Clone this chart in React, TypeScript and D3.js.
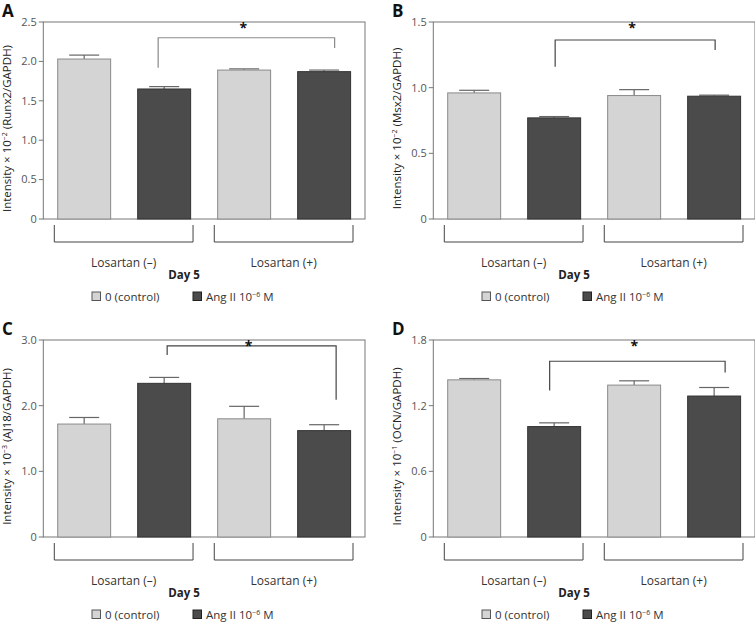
import React from "react";
import * as d3 from "d3";

// ---- data ----
const panelLetters = ["A", "B", "C", "D"];
const geneNames = ["Runx2", "Msx2", "AJ18", "OCN"];
const exponents = ["−2", "−2", "−3", "−1"];
const groupLabels = ["Losartan (–)", "Losartan (+)"];
const seriesLabels = ["0 (control)", "Ang II 10"];
const seriesSup = ["", "−6"];
const xAxisTitle = "Day 5";
const barKeys = ["L-ctrl", "L-ang", "L+ctrl", "L+ang"];

const runx2Values = [2.03, 1.65, 1.89, 1.87];
const runx2Errors = [0.05, 0.03, 0.015, 0.02];
const msx2Values = [0.96, 0.77, 0.94, 0.935];
const msx2Errors = [0.02, 0.01, 0.045, 0.008];
const aj18Values = [1.72, 2.34, 1.8, 1.62];
const aj18Errors = [0.1, 0.09, 0.19, 0.09];
const ocnValues = [1.436, 1.009, 1.388, 1.288];
const ocnErrors = [0.012, 0.034, 0.039, 0.078];

const yMaxes = [2.5, 1.5, 3.0, 1.8];
const yTicks = [
  [0, 0.5, 1.0, 1.5, 2.0, 2.5],
  [0, 0.5, 1.0, 1.5],
  [0, 1.0, 2.0, 3.0],
  [0, 0.6, 1.2, 1.8],
];
// significance bracket: [left leg bottom, top, right leg bottom] in data units
const sigBrackets = [
  [1.92, 2.3, 2.17],
  [1.16, 1.363, 1.287],
  [2.77, 2.91, 2.09],
  [1.339, 1.606, 1.503],
];

const valuesList = [runx2Values, msx2Values, aj18Values, ocnValues];
const errorsList = [runx2Errors, msx2Errors, aj18Errors, ocnErrors];

// ---- styling / layout ----
const W = 755;
const H = 623;
const FONT = "'Open Sans', 'Noto Sans', sans-serif";
const panelOffsets = [
  [0, 0],
  [390, 0],
  [0, 318],
  [390, 318],
];
const plotLeft = 43.3;
const plotRight = 365;
const plotTop = 22;
const plotBottom = 219;
const bracketDx = [
  [-6, 10.5],
  [1, 1],
  [3, 12],
  [-4.5, 11],
];
const bracketColors = ["#8a8a8a", "#444", "#444", "#444"];
const fills = ["#d4d4d4", "#4b4b4b"];
const strokes = ["#8a8a8a", "#333"];

function Panel({ idx }: { idx: number }) {
  const [ox, oy] = panelOffsets[idx];
  const values = valuesList[idx];
  const errors = errorsList[idx];
  const x = d3
    .scaleBand<string>()
    .domain(barKeys)
    .range([plotLeft, plotRight])
    .paddingInner(0.338)
    .paddingOuter(0.18);
  const y = d3.scaleLinear().domain([0, yMaxes[idx]]).range([plotBottom, plotTop]);
  const bw = x.bandwidth();
  const fmt = (v: number) => (v === 0 ? "0" : d3.format(".1f")(v));
  const br = sigBrackets[idx];
  const bl = (x(barKeys[1]) as number) + bw / 2 + bracketDx[idx][0];
  const brr = (x(barKeys[3]) as number) + bw / 2 + bracketDx[idx][1];
  const groups = [0, 1].map((g) => {
    const a = x(barKeys[g * 2]) as number;
    const b = (x(barKeys[g * 2 + 1]) as number) + bw;
    return { x0: a - 3.4, x1: b + 2.4, label: groupLabels[g] };
  });
  const midY = (plotTop + plotBottom) / 2;
  return (
    <g transform={`translate(${ox},${oy})`} fontFamily={FONT}>
      {/* panel letter */}
      <text x={2} y={17} fontSize={17} fontWeight="bold" fill="#111">
        {panelLetters[idx]}
      </text>
      {/* y label */}
      <text
        transform={`translate(11,${midY + 8}) rotate(-90)`}
        textAnchor="middle"
        fontSize={11.5}
        fill="#222"
      >
        <tspan>Intensity × 10</tspan>
        <tspan fontSize={7} dy={-4}>
          {exponents[idx]}
        </tspan>
        <tspan dy={4}>{` (${geneNames[idx]}/GAPDH)`}</tspan>
      </text>
      {/* frame */}
      <rect
        x={plotLeft}
        y={plotTop}
        width={plotRight - plotLeft}
        height={plotBottom - plotTop}
        fill="none"
        stroke="#777"
        strokeWidth={1}
      />
      {/* ticks */}
      {yTicks[idx].map((t) => (
        <g key={t}>
          <line x1={plotLeft - 4.5} x2={plotLeft} y1={y(t)} y2={y(t)} stroke="#777" />
          <text
            x={plotLeft - 6.5}
            y={y(t)}
            dy="0.35em"
            textAnchor="end"
            fontSize={11}
            fill="#555"
          >
            {fmt(t)}
          </text>
        </g>
      ))}
      {/* bars */}
      {barKeys.map((k, i) => {
        const s = i % 2;
        const bx = x(k) as number;
        const top = y(values[i]);
        const cap = y(values[i] + errors[i]);
        const cx = bx + bw / 2;
        return (
          <g key={k}>
            <line x1={cx} x2={cx} y1={top} y2={cap} stroke="#666" strokeWidth={1.2} />
            <line x1={cx - 15} x2={cx + 15} y1={cap} y2={cap} stroke="#666" strokeWidth={1.2} />
            <rect
              x={bx}
              y={top}
              width={bw}
              height={plotBottom - top}
              fill={fills[s]}
              stroke={strokes[s]}
              strokeWidth={1}
            />
          </g>
        );
      })}
      {/* significance bracket */}
      <path
        d={`M${bl},${y(br[0])}V${y(br[1])}H${brr}V${y(br[2])}`}
        fill="none"
        stroke={bracketColors[idx]}
        strokeWidth={1.2}
      />
      <text
        x={(bl + brr) / 2 - 3}
        y={plotTop + 11}
        textAnchor="middle"
        fontSize={14}
        fontWeight="bold"
        fill="#111"
      >
        *
      </text>
      {/* group brackets */}
      {groups.map((g, gi) => (
        <g key={gi}>
          <path
            d={`M${g.x0},${plotBottom + 6}V${plotBottom + 23}H${g.x1}V${plotBottom + 6}`}
            fill="none"
            stroke="#444"
            strokeWidth={1}
          />
          <text
            x={(g.x0 + g.x1) / 2}
            y={plotBottom + 48}
            textAnchor="middle"
            fontSize={12}
            fill="#333"
          >
            {g.label}
          </text>
        </g>
      ))}
      <text
        x={(plotLeft + plotRight) / 2 - 20}
        y={plotBottom + 60}
        textAnchor="middle"
        fontSize={11.5}
        fontWeight="bold"
        fill="#222"
      >
        {xAxisTitle}
      </text>
      {/* legend */}
      {[0, 1].map((s) => {
        const lx = s === 0 ? 92 : 193;
        return (
          <g key={s}>
            <rect
              x={lx}
              y={plotBottom + 73}
              width={8.5}
              height={8.5}
              fill={fills[s]}
              stroke={s === 0 ? "#555" : "#222"}
              strokeWidth={1}
            />
            <text x={lx + 13} y={plotBottom + 82} fontSize={11.5} fill="#333">
              {seriesLabels[s]}
              {seriesSup[s] && (
                <tspan fontSize={7} dy={-4}>
                  {seriesSup[s]}
                </tspan>
              )}
              {seriesSup[s] && <tspan dy={4}> M</tspan>}
            </text>
          </g>
        );
      })}
    </g>
  );
}

export default function App() {
  return (
    <svg
      width={W}
      height={H}
      style={{ position: "absolute", left: 0, top: 0, background: "#fff" }}
    >
      <rect width={W} height={H} fill="#fff" />
      {[0, 1, 2, 3].map((i) => (
        <Panel key={i} idx={i} />
      ))}
    </svg>
  );
}
